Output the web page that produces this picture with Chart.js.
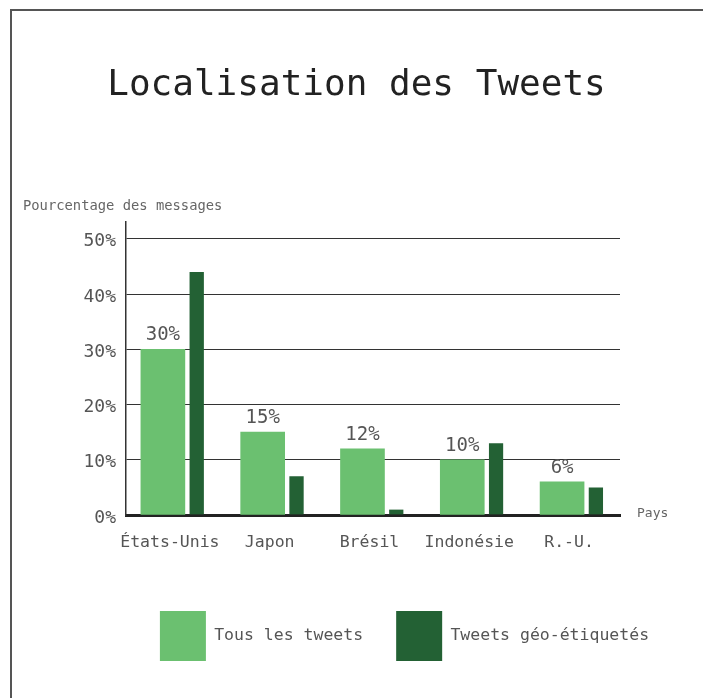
<!DOCTYPE html>
<html>
<head>
<meta charset="utf-8">
<script src="https://cdn.jsdelivr.net/npm/chart.js@4/dist/chart.umd.min.js"></script>
<style>
  body { margin: 0; background: #fff; }
  #cadre { position: absolute; left: 10px; top: 9px; right: 0; bottom: 0; border-left: 2px solid #555; border-top: 2px solid #555; }
  #wrap { position: absolute; left: 0; top: 0; width: 703px; height: 698px; }
</style>
</head>
<body>
<div id="cadre"></div>
<div id="wrap"><canvas id="chartTweets" width="703" height="698"></canvas></div>
<script>
const categories = ['États-Unis', 'Japon', 'Brésil', 'Indonésie', 'R.-U.'];
const tousTweets = [30, 15, 12, 10, 6];
const tweetsGeo = [44, 7, 1, 13, 5];
const yTicks = [0, 10, 20, 30, 40, 50];

const police = 'DejaVu Sans Mono';

// etiquettes au-dessus des barres claires + textes des axes
const textesPlugin = {
    id: 'textes',
    afterDatasetsDraw(chart) {
        const ctx = chart.ctx;
        const meta = chart.getDatasetMeta(0);
        ctx.save();
        ctx.fillStyle = '#555';
        ctx.font = '19px ' + police;
        ctx.textAlign = 'center';
        ctx.textBaseline = 'alphabetic';
        meta.data.forEach((bar, i) => {
            ctx.fillText(tousTweets[i] + '%', bar.x, bar.y - 9);
        });
        const area = chart.chartArea;
        ctx.font = '13.8px ' + police;
        ctx.fillStyle = '#666';
        ctx.textAlign = 'left';
        ctx.textBaseline = 'middle';
        ctx.fillText('Pourcentage des messages', 23, area.top - 16);
        ctx.font = '13px ' + police;
        ctx.fillText('Pays', area.right + 17, area.bottom - 1);
        ctx.restore();
    }
};

// la legende n'est pas centree dans l'original
const decalageLegende = {
    id: 'decalageLegende',
    afterLayout(chart) {
        chart.legend.left += 48;
        chart.legend.right += 48;
    }
};

function carregarGrafico() {
    const ctx = document.getElementById('chartTweets').getContext('2d');
    const myChart = new Chart(ctx, {
        type: 'bar',
        data: {
            datasets: [{
                label: 'Tous les tweets',
                data: tousTweets.map((v, i) => ({ x: i, y: v })),
                backgroundColor: '#6bc070',
                borderWidth: 0,
                barThickness: 44
            }, {
                label: 'Tweets géo-étiquetés',
                data: tweetsGeo.map((v, i) => ({ x: i, y: v })),
                backgroundColor: '#236134',
                borderColor: 'rgba(0,0,0,0)',
                borderWidth: { left: 5, top: 0, right: 0, bottom: 0 },
                barThickness: 19
            }]
        },
        options: {
            responsive: false,
            animation: false,
            layout: { padding: { left: 10, right: 0, top: 0, bottom: 27 } },
            scales: {
                x: {
                    type: 'linear',
                    min: -0.59,
                    max: 4.36,
                    offset: false,
                    afterBuildTicks: (scale) => { scale.ticks = categories.map((c, i) => ({ value: i })); },
                    afterFit: (scale) => { scale.height = 63; },
                    grid: { display: false, offset: false },
                    border: { color: '#222', width: 3 },
                    ticks: {
                        callback: (v) => categories[v],
                        labelOffset: -15,
                        padding: 10,
                        maxRotation: 0,
                        autoSkip: false,
                        color: '#555',
                        font: { family: police, size: 16.5 }
                    }
                },
                y: {
                    min: 0,
                    max: 53,
                    afterBuildTicks: (scale) => { scale.ticks = yTicks.map(v => ({ value: v })); },
                    afterFit: (scale) => { scale.width = 116; },
                    grid: { color: '#333', lineWidth: 1, drawTicks: false },
                    border: { color: '#333', width: 1.5 },
                    ticks: {
                        callback: (v) => v + '%',
                        padding: 10,
                        labelOffset: 3,
                        color: '#555',
                        font: { family: police, size: 18 }
                    }
                },
                marge: {
                    type: 'linear',
                    position: 'right',
                    afterFit: (scale) => { scale.width = 83; },
                    grid: { display: false },
                    border: { display: false },
                    ticks: { display: false }
                }
            },
            plugins: {
                title: {
                    display: true,
                    text: 'Localisation des Tweets',
                    color: '#222',
                    font: { family: police, size: 36, weight: 'normal' },
                    padding: { top: 64, bottom: 115 }
                },
                legend: {
                    position: 'bottom',
                    labels: {
                        boxWidth: 46,
                        boxHeight: 50,
                        padding: 33,
                        color: '#555',
                        font: { family: police, size: 16.5 }
                    }
                },
                tooltip: { enabled: false }
            }
        },
        plugins: [textesPlugin, decalageLegende]
    });
    window.myChart = myChart;
}

carregarGrafico()
</script>
</body>
</html>
